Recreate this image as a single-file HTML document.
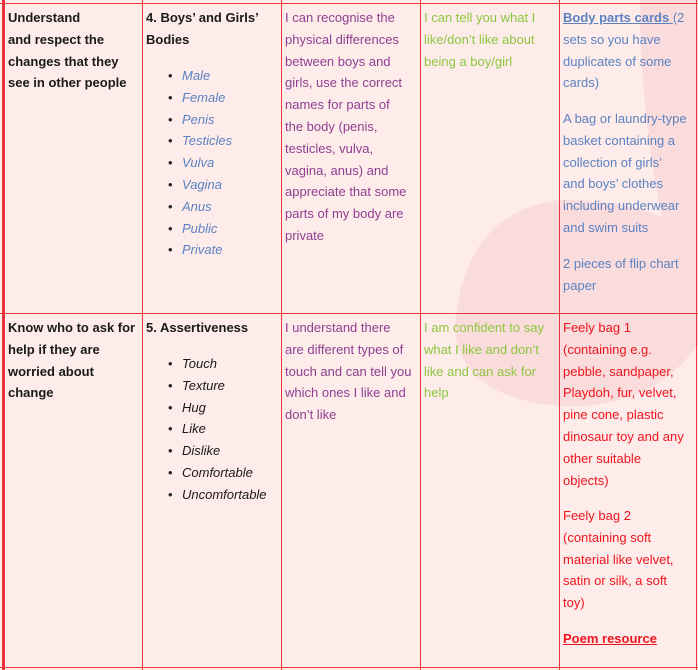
<!DOCTYPE html>
<html><head><meta charset="utf-8"><style>
body{margin:0;width:698px;height:670px;background:#fdecea;position:relative;overflow:hidden;font-family:"Liberation Sans",sans-serif;font-size:13px;line-height:21.8px}
.c{position:absolute;white-space:nowrap}
.b{font-weight:bold;color:#1a1a1a}
.p{color:#8e3f91}
.g{color:#8dc63f}
.bl{color:#5b82c2}
.r{color:#f0141e}
.v{position:absolute;top:0;height:670px;width:1px;background:#e8353b}
.h{position:absolute;left:0;width:698px;height:1px;background:#e8353b}
ul{margin:0;padding:0;list-style:none}
li{position:relative;padding-left:12px;font-style:italic}
li:before{content:"•";position:absolute;left:-2px;font-style:normal;color:#222}
u{text-decoration:underline}
</style></head><body>
<svg width="698" height="670" style="position:absolute;left:0;top:0">
<path d="M640,0 L698,0 L698,345 Q650,410 560,406 Q462,398 455,330 Q462,212 560,200 Q630,200 662,218 Q640,110 640,0 Z" fill="#fadcdc"/>
</svg>
<div class="h" style="top:3px"></div>
<div class="h" style="top:313px"></div>
<div class="h" style="top:667px"></div>
<div class="v" style="left:2px;width:3px"></div>
<div class="v" style="left:142px"></div>
<div class="v" style="left:281px"></div>
<div class="v" style="left:420px"></div>
<div class="v" style="left:559px"></div>
<div class="v" style="left:696px"></div>

<div class="c b" style="left:8px;top:7px">Understand<br>and respect the<br>changes that they<br>see in other people</div>
<div class="c b" style="left:146px;top:7px">4. Boys’ and Girls’<br>Bodies</div>
<ul class="c bl" style="left:170px;top:65px"><li>Male</li><li>Female</li><li>Penis</li><li>Testicles</li><li>Vulva</li><li>Vagina</li><li>Anus</li><li>Public</li><li>Private</li></ul>
<div class="c p" style="left:285px;top:7px">I can recognise the<br>physical differences<br>between boys and<br>girls, use the correct<br>names for parts of<br>the body (penis,<br>testicles, vulva,<br>vagina, anus) and<br>appreciate that some<br>parts of my body are<br>private</div>
<div class="c g" style="left:424px;top:7px">I can tell you what I<br>like/don’t like about<br>being a boy/girl</div>
<div class="c bl" style="left:563px;top:7px"><u><b>Body parts cards </b></u>(2<br>sets so you have<br>duplicates of some<br>cards)</div>
<div class="c bl" style="left:563px;top:108px">A bag or laundry-type<br>basket containing a<br>collection of girls’<br>and boys’ clothes<br>including underwear<br>and swim suits</div>
<div class="c bl" style="left:563px;top:253px">2 pieces of flip chart<br>paper</div>

<div class="c b" style="left:8px;top:317px">Know who to ask for<br>help if they are<br>worried about<br>change</div>
<div class="c b" style="left:146px;top:317px">5. Assertiveness</div>
<ul class="c" style="left:170px;top:353px;color:#1a1a1a"><li>Touch</li><li>Texture</li><li>Hug</li><li>Like</li><li>Dislike</li><li>Comfortable</li><li>Uncomfortable</li></ul>
<div class="c p" style="left:285px;top:317px">I understand there<br>are different types of<br>touch and can tell you<br>which ones I like and<br>don’t like</div>
<div class="c g" style="left:424px;top:317px">I am confident to say<br>what I like and don’t<br>like and can ask for<br>help</div>
<div class="c r" style="left:563px;top:317px">Feely bag 1<br>(containing e.g.<br>pebble, sandpaper,<br>Playdoh, fur, velvet,<br>pine cone, plastic<br>dinosaur toy and any<br>other suitable<br>objects)</div>
<div class="c r" style="left:563px;top:505px">Feely bag 2<br>(containing soft<br>material like velvet,<br>satin or silk, a soft<br>toy)</div>
<div class="c r" style="left:563px;top:628px"><u><b>Poem resource</b></u></div>
</body></html>
